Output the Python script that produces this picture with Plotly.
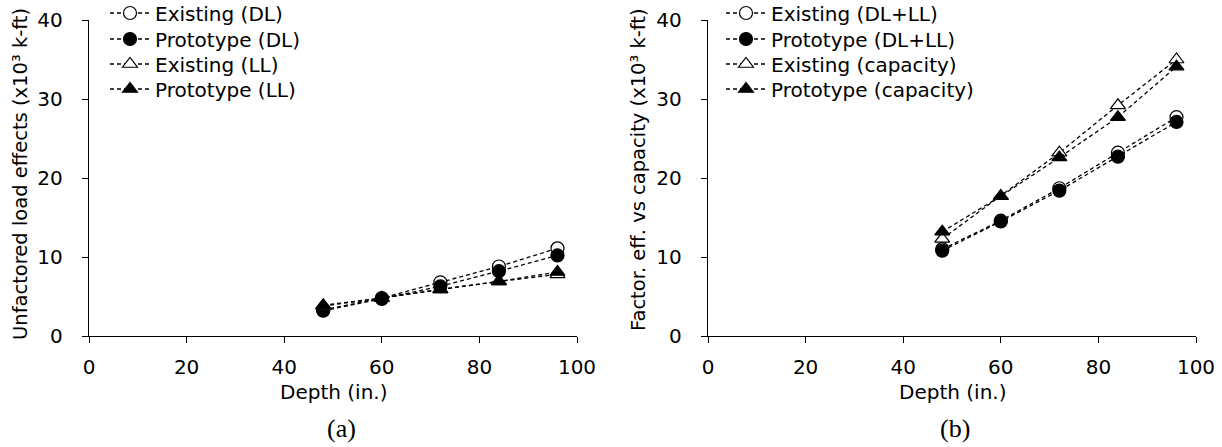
import plotly.graph_objects as go

# Girder depth (in.)
depth = [48, 60, 72, 84, 96]

# (a) Unfactored load effects, x10^3 k-ft
existing_dl = [3.3, 4.8, 6.8, 8.8, 11.1]
prototype_dl = [3.2, 4.7, 6.3, 8.2, 10.2]
existing_ll = [3.8, 4.8, 5.9, 6.9, 7.8]
prototype_ll = [3.9, 4.8, 5.9, 6.9, 8.1]

# (b) Factored effects vs capacity, x10^3 k-ft
existing_dlll = [11.0, 14.6, 18.7, 23.2, 27.7]
prototype_dlll = [10.8, 14.5, 18.4, 22.7, 27.1]
existing_cap = [12.3, 17.7, 23.2, 29.2, 35.0]
prototype_cap = [13.2, 17.7, 22.6, 27.7, 34.1]

x_ticks = [0, 20, 40, 60, 80, 100]
y_ticks = [0, 10, 20, 30, 40]

W, H = 1222, 447
FONT = "DejaVu Sans, Liberation Sans, sans-serif"
SERIF = "Liberation Serif, Times New Roman, serif"
DASH = "4px,3px"
FS = 20

def px_x(p):
    return p / W

def px_y(p):
    return 1 - p / H

fig = go.Figure()

# one single-entry legend per series so each key row can be placed exactly
legend_rows = [13, 39, 64, 89]
legend_layout = {}
counter = [0]

def add_series(y, name, symbol, filled, xa, ya, key_x, row):
    counter[0] += 1
    lg = "legend" if counter[0] == 1 else f"legend{counter[0]}"
    fig.add_trace(go.Scatter(
        x=depth, y=y, name=name, mode="lines+markers",
        xaxis=xa, yaxis=ya, legend=lg, showlegend=True,
        line=dict(color="black", width=1.3, dash=DASH),
        marker=dict(symbol=symbol, size=13,
                    color="black" if filled else "white",
                    line=dict(color="black", width=1.2)),
    ))
    legend_layout[lg] = dict(
        x=px_x(key_x), y=px_y(legend_rows[row]), xanchor="left", yanchor="middle",
        bgcolor="rgba(0,0,0,0)", borderwidth=0, itemwidth=40,
        font=dict(family=FONT, size=FS, color="black"),
    )

add_series(existing_dl, "Existing (DL)", "circle", False, "x", "y", 105, 0)
add_series(prototype_dl, "Prototype (DL)", "circle", True, "x", "y", 105, 1)
add_series(existing_ll, "Existing (LL)", "triangle-up", False, "x", "y", 105, 2)
add_series(prototype_ll, "Prototype (LL)", "triangle-up", True, "x", "y", 105, 3)

add_series(existing_dlll, "Existing (DL+LL)", "circle", False, "x2", "y2", 721, 0)
add_series(prototype_dlll, "Prototype (DL+LL)", "circle", True, "x2", "y2", 721, 1)
add_series(existing_cap, "Existing (capacity)", "triangle-up", False, "x2", "y2", 721, 2)
add_series(prototype_cap, "Prototype (capacity)", "triangle-up", True, "x2", "y2", 721, 3)

axis_common = dict(
    showgrid=False, zeroline=False, showline=True, linecolor="black",
    linewidth=1.4, ticks="outside", ticklen=6, tickwidth=1.4,
    tickcolor="black", tickfont=dict(family=FONT, size=FS, color="black"),
)

top, bottom = 20, 336
fig.update_layout(
    width=W, height=H,
    margin=dict(l=0, r=0, t=0, b=0, autoexpand=False),
    showlegend=True,
    paper_bgcolor="white", plot_bgcolor="white",
    font=dict(family=FONT, size=FS, color="black"),
    xaxis=dict(domain=[px_x(89), px_x(577)], range=[0, 100], tickvals=x_ticks,
               anchor="y", ticklabelstandoff=7, **axis_common),
    yaxis=dict(domain=[px_y(bottom), px_y(top)], range=[0, 40], tickvals=y_ticks,
               anchor="x", ticklabelstandoff=15, **axis_common),
    xaxis2=dict(domain=[px_x(708), px_x(1196)], range=[0, 100], tickvals=x_ticks,
                anchor="y2", ticklabelstandoff=7, **axis_common),
    yaxis2=dict(domain=[px_y(bottom), px_y(top)], range=[0, 40], tickvals=y_ticks,
                anchor="x2", ticklabelstandoff=15, **axis_common),
    **legend_layout,
)

annotations = [
    dict(text="Unfactored load effects (x10³ k-ft)", x=px_x(20), y=px_y(174),
         textangle=-90, font=dict(family=FONT, size=19.5)),
    dict(text="Factor. eff. vs capacity (x10³ k-ft)", x=px_x(638), y=px_y(170),
         textangle=-90, font=dict(family=FONT, size=19.5)),
    dict(text="Depth (in.)", x=px_x(333), y=px_y(392), font=dict(family=FONT, size=FS)),
    dict(text="Depth (in.)", x=px_x(952), y=px_y(392), font=dict(family=FONT, size=FS)),
    dict(text="(a)", x=px_x(341), y=px_y(428), font=dict(family=SERIF, size=26)),
    dict(text="(b)", x=px_x(955), y=px_y(428), font=dict(family=SERIF, size=26)),
]
for a in annotations:
    fig.add_annotation(xref="paper", yref="paper", showarrow=False,
                       xanchor="center", yanchor="middle", **a)

fig.write_html("out.html")
